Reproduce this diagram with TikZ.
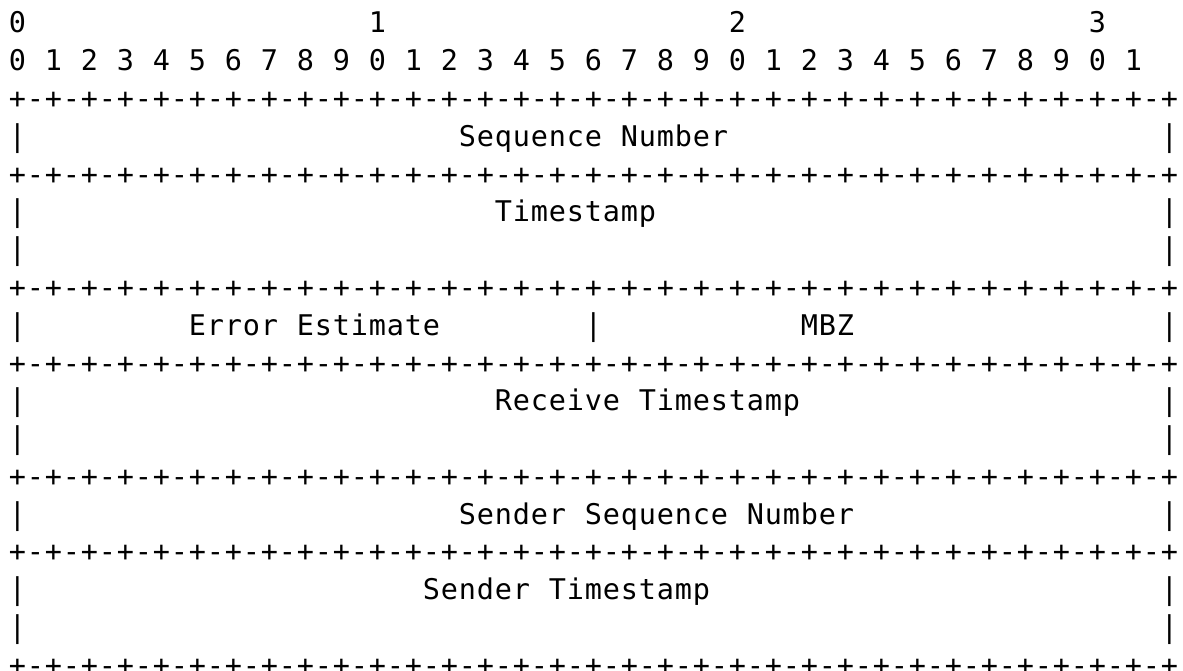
\documentclass[tikz,border=0pt]{standalone}
\usepackage{fontspec}
\setmonofont{DejaVu Sans Mono}
\usepackage{graphicx}
\ExplSyntaxOn
\NewDocumentCommand\cells{m}{
  \exp_args:Nx \str_map_inline:nn {#1} {\makebox[18pt][c]{##1}}
}
\ExplSyntaxOff
\def\rulegroup{+-+-+-+-+-+-+-+-}
\def\ruler{\rulegroup\rulegroup\rulegroup\rulegroup+}
\newcommand\vbarcell{\makebox[18pt][c]{\scalebox{1}[1.05]{|}}}
\begin{document}
\begin{tikzpicture}[x=1pt,y=-1pt,
  txt/.style={anchor=base west, inner sep=0pt, outer sep=0pt,
    font=\ttfamily\fontsize{28.5}{32}\selectfont}]
\fill[white] (0,0) rectangle (1183,671);
\useasboundingbox (0,0) rectangle (1183,671);
\def\bl{33}\def\lp{37.78}
% header
\node[txt] (h0) at ({8.5+18*0},{\bl}) {\cells{0}};
\node[txt] (h1) at ({8.5+18*20},{\bl}) {\cells{1}};
\node[txt] (h2) at ({8.5+18*40},{\bl}) {\cells{2}};
\node[txt] (h3) at ({8.5+18*60},{\bl}) {\cells{3}};
\node[txt] (digits) at ({8.5},{\bl+\lp}) {\cells{0 1 2 3 4 5 6 7 8 9 0 1 2 3 4 5 6 7 8 9 0 1 2 3 4 5 6 7 8 9 0 1}};
% rulers
\foreach \r in {2,4,7,9,12,14,17}
  \node[txt] (ruler\r) at ({8.5},{\bl+\lp*\r}) {\cells{\ruler}};
% side bars
\foreach \r in {3,5,6,8,10,11,13,15,16} {
  \node[txt] (barl\r) at ({8.5},{\bl+\lp*\r}) {\vbarcell};
  \node[txt] (barr\r) at ({8.5+18*64},{\bl+\lp*\r}) {\vbarcell};
}
\node[txt] (barm8) at ({8.5+18*32},{\bl+\lp*8}) {\vbarcell};
% labels
\node[txt] (seq) at ({8.5+18*25},{\bl+\lp*3}) {\cells{Sequence Number}};
\node[txt] (ts) at ({8.5+18*27},{\bl+\lp*5}) {\cells{Timestamp}};
\node[txt] (err) at ({8.5+18*10},{\bl+\lp*8}) {\cells{Error Estimate}};
\node[txt] (mbz) at ({8.5+18*44},{\bl+\lp*8}) {\cells{MBZ}};
\node[txt] (rts) at ({8.5+18*27},{\bl+\lp*10}) {\cells{Receive Timestamp}};
\node[txt] (sseq) at ({8.5+18*25},{\bl+\lp*13}) {\cells{Sender Sequence Number}};
\node[txt] (sts) at ({8.5+18*23},{\bl+\lp*15}) {\cells{Sender Timestamp}};
\end{tikzpicture}
\end{document}
